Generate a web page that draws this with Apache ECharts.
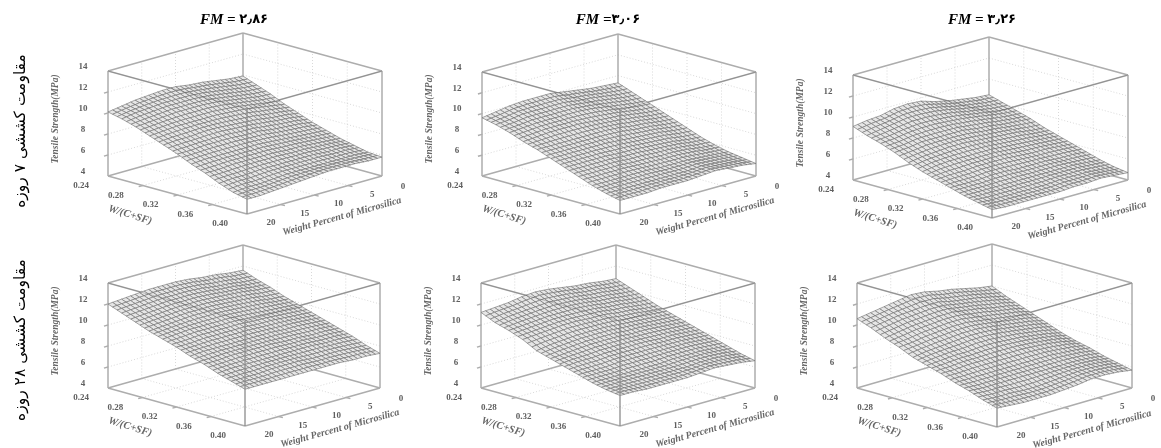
<!DOCTYPE html>
<html><head><meta charset="utf-8">
<style>html,body{margin:0;padding:0;background:#fff}#c{width:1161px;height:448px;filter:blur(0.75px)}</style>
<script src="https://cdn.jsdelivr.net/npm/echarts@6/dist/echarts.min.js"></script>
</head><body><div id="c"></div>
<script>
// Tick labels
const wcTicks=[0.24,0.28,0.32,0.36,0.40];
const msTicks=[20,15,10,5,0];
const zTicks=[4,6,8,10,12,14];
// Read-off surface values: rows W/(C+SF) 0.24..0.40, columns microsilica 20..0 %
const wcKnots=[0.24,0.256,0.272,0.288,0.304,0.32,0.336,0.352,0.368,0.384,0.40];
const msKnots=[20,18,16,14,12,10,8,6,4,2,0];
const day7_fm286=[
[10.1,10.3,10.5,10.6,10.7,10.7,10.5,10.4,10.2,10.0,9.9],
[9.8,10.0,10.1,10.2,10.2,10.2,10.1,9.9,9.7,9.5,9.4],
[9.4,9.5,9.6,9.7,9.7,9.7,9.6,9.4,9.2,9.0,8.9],
[8.9,9.0,9.1,9.1,9.1,9.1,9.0,8.9,8.7,8.5,8.3],
[8.4,8.5,8.5,8.6,8.6,8.5,8.4,8.3,8.1,8.0,7.8],
[7.9,7.9,8.0,8.0,8.0,7.9,7.9,7.7,7.6,7.5,7.3],
[7.3,7.4,7.4,7.4,7.4,7.4,7.3,7.2,7.1,7.0,6.9],
[6.8,6.8,6.9,6.9,6.9,6.9,6.8,6.8,6.7,6.6,6.5],
[6.2,6.3,6.3,6.4,6.4,6.4,6.4,6.4,6.3,6.3,6.2],
[5.7,5.8,5.8,5.9,6.0,6.0,6.0,6.0,6.0,6.0,5.9],
[5.4,5.4,5.5,5.6,5.7,5.8,5.9,5.9,5.9,5.8,5.8]];
const day7_fm306=[
[9.6,9.8,10.0,10.1,10.1,10.1,9.9,9.7,9.5,9.4,9.3],
[9.3,9.4,9.6,9.6,9.6,9.6,9.4,9.3,9.1,8.9,8.8],
[8.9,9.0,9.1,9.1,9.1,9.1,9.0,8.8,8.6,8.4,8.3],
[8.4,8.5,8.6,8.6,8.6,8.5,8.4,8.3,8.1,7.9,7.8],
[8.0,8.0,8.0,8.0,8.0,8.0,7.9,7.7,7.6,7.4,7.3],
[7.5,7.5,7.5,7.5,7.5,7.4,7.3,7.2,7.1,6.9,6.8],
[7.0,7.0,7.0,7.0,6.9,6.9,6.8,6.7,6.6,6.4,6.3],
[6.5,6.5,6.5,6.5,6.4,6.4,6.3,6.3,6.2,6.0,5.9],
[6.0,6.0,6.0,6.0,6.0,5.9,5.9,5.9,5.8,5.7,5.6],
[5.6,5.6,5.6,5.6,5.6,5.6,5.6,5.7,5.6,5.5,5.4],
[5.3,5.3,5.3,5.4,5.4,5.4,5.5,5.6,5.5,5.4,5.2]];
const day7_fm326=[
[9.1,9.3,9.4,9.7,9.8,9.7,9.3,9.0,8.8,8.6,8.5],
[8.6,8.8,9.0,9.2,9.2,9.1,8.9,8.6,8.4,8.2,8.1],
[8.2,8.3,8.5,8.6,8.6,8.5,8.4,8.2,8.0,7.8,7.7],
[7.7,7.8,8.0,8.0,8.0,8.0,7.8,7.7,7.5,7.4,7.3],
[7.1,7.3,7.4,7.5,7.5,7.4,7.3,7.2,7.1,6.9,6.8],
[6.6,6.8,6.9,6.9,6.9,6.9,6.8,6.7,6.6,6.5,6.4],
[6.2,6.3,6.3,6.4,6.4,6.4,6.3,6.2,6.2,6.1,6.0],
[5.8,5.8,5.8,5.9,5.9,5.8,5.8,5.8,5.7,5.7,5.6],
[5.4,5.4,5.4,5.4,5.4,5.4,5.4,5.4,5.4,5.3,5.2],
[5.1,5.0,5.0,5.0,5.0,5.0,5.1,5.1,5.1,5.0,4.9],
[4.8,4.7,4.7,4.7,4.7,4.7,4.8,4.8,4.9,4.8,4.7]];
const day28_fm286=[
[12.0,12.1,12.2,12.3,12.3,12.3,12.2,12.0,11.9,11.7,11.6],
[11.5,11.6,11.7,11.8,11.8,11.8,11.7,11.5,11.4,11.2,11.1],
[11.0,11.1,11.2,11.3,11.3,11.3,11.2,11.1,11.0,10.8,10.7],
[10.5,10.6,10.7,10.8,10.8,10.8,10.7,10.6,10.5,10.3,10.2],
[10.1,10.2,10.3,10.3,10.3,10.3,10.2,10.1,10.0,9.9,9.8],
[9.7,9.7,9.8,9.8,9.8,9.8,9.7,9.7,9.6,9.5,9.4],
[9.2,9.3,9.3,9.3,9.3,9.3,9.3,9.2,9.2,9.1,9.0],
[8.8,8.8,8.9,8.9,8.9,8.9,8.8,8.8,8.7,8.7,8.6],
[8.3,8.4,8.4,8.4,8.4,8.4,8.4,8.4,8.3,8.3,8.2],
[7.9,7.9,7.9,8.0,8.0,8.0,7.9,7.9,7.9,7.8,7.7],
[7.5,7.5,7.5,7.5,7.5,7.5,7.5,7.5,7.4,7.4,7.3]];
const day28_fm306=[
[11.2,11.3,11.4,11.6,11.7,11.6,11.4,11.2,11.1,10.9,10.8],
[10.6,10.8,10.9,11.0,11.1,11.0,10.9,10.7,10.6,10.4,10.3],
[10.2,10.3,10.4,10.5,10.5,10.5,10.4,10.2,10.1,9.9,9.8],
[9.7,9.8,9.9,10.0,10.0,9.9,9.9,9.7,9.6,9.4,9.3],
[9.0,9.2,9.3,9.4,9.4,9.4,9.3,9.2,9.1,9.0,8.9],
[8.6,8.7,8.8,8.9,8.9,8.9,8.8,8.8,8.7,8.6,8.5],
[8.2,8.3,8.3,8.4,8.4,8.4,8.4,8.3,8.3,8.2,8.1],
[7.8,7.8,7.8,7.9,7.9,7.9,7.9,7.9,7.9,7.8,7.7],
[7.4,7.4,7.4,7.4,7.4,7.4,7.5,7.5,7.5,7.4,7.3],
[7.1,7.1,7.1,7.1,7.1,7.1,7.1,7.2,7.2,7.1,6.9],
[6.9,6.9,6.8,6.8,6.8,6.8,6.9,7.0,6.9,6.8,6.6]];
const day28_fm326=[
[10.6,10.8,11.0,11.2,11.4,11.3,11.0,10.8,10.5,10.2,10.0],
[10.1,10.3,10.5,10.6,10.7,10.7,10.4,10.2,10.0,9.7,9.4],
[9.5,9.7,9.9,10.0,10.1,10.1,9.9,9.7,9.4,9.2,8.9],
[9.0,9.1,9.3,9.4,9.5,9.5,9.3,9.1,8.9,8.7,8.4],
[8.4,8.6,8.7,8.8,8.9,8.9,8.8,8.6,8.4,8.2,7.9],
[8.0,8.1,8.2,8.2,8.3,8.3,8.2,8.1,7.9,7.7,7.4],
[7.6,7.6,7.7,7.7,7.7,7.7,7.7,7.6,7.5,7.3,7.0],
[7.1,7.1,7.1,7.1,7.1,7.1,7.1,7.1,7.0,6.9,6.7],
[6.7,6.6,6.6,6.6,6.6,6.6,6.6,6.6,6.6,6.5,6.3],
[6.2,6.1,6.1,6.0,6.0,6.1,6.2,6.3,6.3,6.2,6.0],
[5.8,5.7,5.6,5.6,5.6,5.7,5.8,6.0,6.0,5.9,5.7]];
const panelTitles=[['FM = ','۲٫۸۶'],['FM =','۳٫۰۶'],['FM = ','۳٫۲۶']];
const rowTitles=['مقاومت کششی ۷ روزه','مقاومت کششی ۲۸ روزه'];
const zTitle='Tensile Strength(MPa)', wcTitle='W/(C+SF)', msTitle='Weight Percent of Microsilica';

// Box geometry of each panel: floor corners Left, Front, Right in pixels and height of the z range
const panels=[
 {values:day7_fm286, L:[108,176],F:[247,214],R:[382,176],h:105},
 {values:day7_fm306, L:[482,176],F:[620,214],R:[756,176],h:104},
 {values:day7_fm326, L:[853,180],F:[992,218],R:[1128,180],h:105},
 {values:day28_fm286,L:[108,388],F:[245,426],R:[380,388],h:105},
 {values:day28_fm306,L:[481,388],F:[620,426],R:[755,388],h:105},
 {values:day28_fm326,L:[857,388],F:[997,427],R:[1132,388],h:105}
];
const titleX=[234,608,982];
const zMin=4,zMax=14;
const frameColor='#adadad',gridColor='#cfcfcf',textColor='#5f5f5f';

const grids=[],xAxes=[],yAxes=[],series=[],graphics=[];
panels.forEach((p,idx)=>{
  const k=p.h/(zMax-zMin);
  const dyA=(p.F[1]-p.L[1])/k, dyB=(p.F[1]-p.R[1])/k;
  const w=p.R[0]-p.L[0];
  const fxA=(p.F[0]-p.L[0])/w, fxB=(p.R[0]-p.F[0])/w;
  // oblique projection of (a,b,z) onto the panel's value axes
  const proj=(a,b,z)=>[a*fxA+b*fxB, z-a*dyA+b*dyB];
  const yLo=zMin-dyA, yHi=zMax+dyB;
  grids.push({left:p.L[0],width:w,top:p.F[1]-(yHi-yLo)*k,height:(yHi-yLo)*k,containLabel:false,show:false});
  xAxes.push({gridIndex:idx,type:'value',min:0,max:1,show:false});
  yAxes.push({gridIndex:idx,type:'value',min:yLo,max:yHi,show:false});
  const A=wc=>(wc-wcTicks[0])/(wcTicks[4]-wcTicks[0]);
  const B=ms=>(msTicks[0]-ms)/msTicks[0];
  const back=[],backDot=[],front=[],frontFaint=[];
  // solid box edges behind the surface
  back.push([0,0,zMin,1,0,zMin],[1,0,zMin,1,1,zMin],[0,0,zMin,0,1,zMin],[0,1,zMin,1,1,zMin]);
  back.push([0,0,zMax,0,1,zMax],[0,1,zMax,1,1,zMax],[0,0,zMin,0,0,zMax],[1,1,zMin,1,1,zMax],[0,1,zMin,0,1,zMax]);
  back.push([0,0,zMax,1,0,zMax],[1,0,zMax,1,1,zMax]);
  // dotted grid on the walls and floor
  zTicks.slice(1,-1).forEach(z=>{backDot.push([0,0,z,0,1,z],[0,1,z,1,1,z]);back.push([0,0,z,0,-0.03,z]);});
  wcTicks.slice(1,-1).forEach(wc=>{const a=A(wc);backDot.push([a,1,zMin,a,1,zMax],[a,0,zMin,a,1,zMin]);back.push([a,0,zMin,a,-0.03,zMin]);});
  msTicks.slice(1,-1).forEach(ms=>{const b=B(ms);backDot.push([0,b,zMin,0,b,zMax],[0,b,zMin,1,b,zMin]);back.push([1,b,zMin,1.03,b,zMin]);});
  // edges seen in front of the surface; the top edges only show through faintly
  front.push([1,0,zMin,1,0,zMax]);
  frontFaint.push([0,0,zMax,1,0,zMax],[1,0,zMax,1,1,zMax]);

  const lineItem=(color,width,dash)=>(params,api)=>{
    const s=api.coord(proj(api.value(0),api.value(1),api.value(2)));
    const e=api.coord(proj(api.value(3),api.value(4),api.value(5)));
    return {type:'line',shape:{x1:s[0],y1:s[1],x2:e[0],y2:e[1]},style:{stroke:color,lineWidth:width,lineDash:dash||null}};
  };
  const base={type:'custom',xAxisIndex:idx,yAxisIndex:idx,silent:true,clip:false,animation:false};
  series.push(Object.assign({},base,{data:backDot,renderItem:lineItem(gridColor,0.8,[1,2]),z:1}));
  series.push(Object.assign({},base,{data:back,renderItem:lineItem(frameColor,1.5),z:2}));

  // Surface cells, painted from back to front; each read-off cell shows 3x3 mesh facets
  const cells=[],sub=3;
  for(let i=0;i<wcKnots.length-1;i++)for(let j=msKnots.length-2;j>=0;j--){
    cells.push([i,j,p.values[i][j],p.values[i+1][j],p.values[i][j+1],p.values[i+1][j+1]]);
  }
  series.push(Object.assign({},base,{data:cells,z:3,renderItem:(params,api)=>{
    const i=api.value(0),j=api.value(1),z00=api.value(2),z10=api.value(3),z01=api.value(4),z11=api.value(5);
    const n=wcKnots.length-1,m=msKnots.length-1,children=[];
    const pt=(u,v)=>{
      const z=z00*(1-u)*(1-v)+z10*u*(1-v)+z01*(1-u)*v+z11*u*v;
      return api.coord(proj((i+u)/n,(j+v)/m,z));
    };
    for(let su=0;su<sub;su++)for(let sv=sub-1;sv>=0;sv--){
      const u0=su/sub,u1=(su+1)/sub,v0=sv/sub,v1=(sv+1)/sub;
      children.push({type:'polygon',shape:{points:[pt(u0,v0),pt(u1,v0),pt(u1,v1),pt(u0,v1)]},
        style:{fill:'#e6e6e6',stroke:'#6c6c6c',lineWidth:0.6}});
    }
    return {type:'group',children};
  }}));
  series.push(Object.assign({},base,{data:frontFaint,renderItem:lineItem('rgba(80,80,80,0.3)',1),z:4}));
  series.push(Object.assign({},base,{data:front,renderItem:lineItem('#8c8c8c',1.3),z:4}));

  // Tick labels
  const labels=[];
  zTicks.forEach(z=>labels.push([0,0,z,-25,-4.5,String(z)]));
  wcTicks.forEach(wc=>labels.push([A(wc),0,zMin,-27,10,wc.toFixed(2)]));
  msTicks.forEach(ms=>labels.push([1,B(ms),zMin,ms===0?21:24,ms===0?11:9,String(ms)]));
  series.push(Object.assign({},base,{data:labels,z:5,dimensions:['a','b','z','dx','dy',{name:'t',type:'ordinal'}],renderItem:(params,api)=>{
    const row=labels[params.dataIndex];
    const c=api.coord(proj(row[0],row[1],row[2]));
    return {type:'text',x:c[0]+row[3],y:c[1]+row[4],style:{text:row[5],fill:textColor,align:'center',verticalAlign:'middle',font:'bold 9px "Liberation Serif"'}};
  }}));

  // Axis titles
  const t=(text,x,y,rot,size)=>graphics.push({type:'text',x,y,rotation:rot,silent:true,z:10,style:{text,fill:'#666',align:'center',verticalAlign:'middle',font:'italic bold '+size+'px "Liberation Serif"'}});
  t(zTitle,p.L[0]-52,p.L[1]-57,Math.PI/2,9.5);
  t(wcTitle,p.L[0]+22,p.L[1]+39,-0.3,10.5);
  t(msTitle,p.F[0]+95,p.F[1]+2.5,0.27,10);
});
panelTitles.forEach((s,i)=>graphics.push({type:'text',x:titleX[i],y:20,silent:true,style:{
  text:'{a|'+s[0]+'}{b|'+s[1]+'}',fill:'#000',align:'center',verticalAlign:'middle',
  rich:{a:{font:'italic bold 15px "Liberation Serif"',fill:'#000'},b:{font:'bold 13px "DejaVu Sans"',fill:'#000'}}}}));
rowTitles.forEach((s,i)=>graphics.push({type:'text',x:21,y:[131,340][i],rotation:Math.PI/2,silent:true,style:{text:s,fill:'#000',align:'center',verticalAlign:'middle',font:'15.5px "DejaVu Sans"'}}));

const chart=echarts.init(document.getElementById('c'));
chart.setOption({animation:false,backgroundColor:'#fff',grid:grids,xAxis:xAxes,yAxis:yAxes,series,graphic:{elements:graphics}});
</script></body></html>
